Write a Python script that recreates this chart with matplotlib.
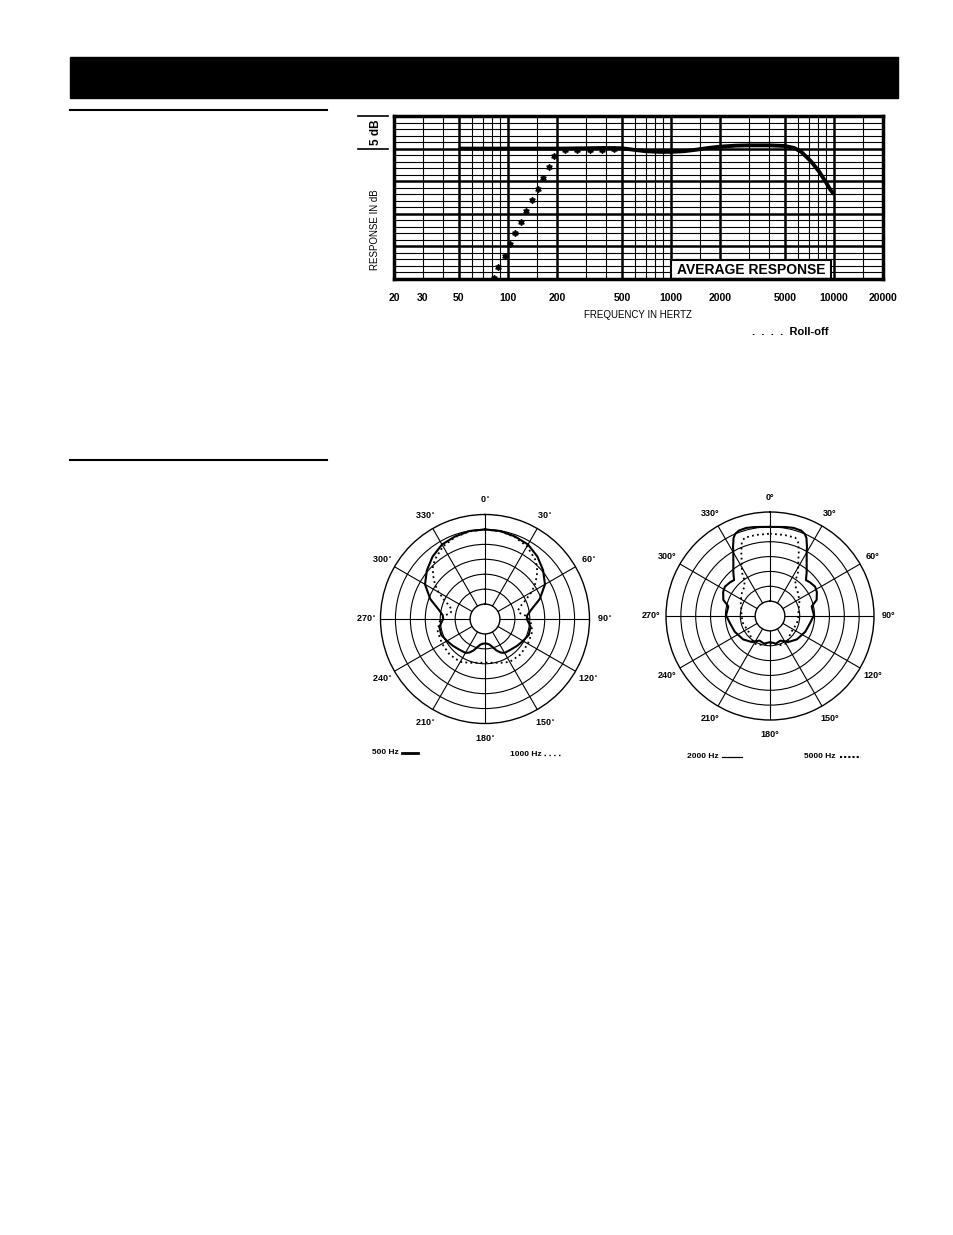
import numpy as np
import matplotlib as mpl
import matplotlib.pyplot as plt
from matplotlib.patches import Rectangle
from matplotlib.lines import Line2D

mpl.use('Agg')
plt.rcParams['font.family'] = ['Liberation Sans', 'DejaVu Sans']

# ---- frequency response data ----
resp_freq = [50, 100, 200, 300, 400, 500, 600, 700, 850, 1000, 1200, 1400, 1700,
             2000, 2500, 3000, 4000, 5000, 5700, 6300, 7200, 8100, 8900, 9500, 10000]
resp_db = [0, 0, 0, 0.05, 0.1, 0.05, -0.2, -0.4, -0.5, -0.5, -0.4, -0.2, 0.1,
           0.3, 0.45, 0.5, 0.5, 0.4, 0.1, -0.5, -1.9, -3.5, -5.1, -6.3, -7.0]

rolloff_freq = [81.6, 87.5, 95.3, 103.3, 110.9, 120.2, 129.5, 140.3, 152, 164, 177.5, 192.3,
                222.8, 265.5, 317, 378, 446]
rolloff_db = [-19.8, -18.2, -16.5, -14.7, -13.0, -11.3, -9.6, -7.9, -6.2, -4.5, -2.8, -1.2,
              -0.15, -0.15, -0.15, -0.15, 0]

tick_freqs = [20, 30, 50, 100, 200, 500, 1000, 2000, 5000, 10000, 20000]
tick_labels = ['20', '30', '50', '100', '200', '500', '1000', '2000', '5000', '10000', '20000']
thick_freqs = [50, 100, 200, 500, 1000, 2000, 5000, 10000]
thin_freqs = [30, 40, 60, 70, 80, 90, 150, 300, 400, 600, 700, 800, 900, 1500,
              3000, 4000, 6000, 7000, 8000, 9000, 15000]

# ---- polar data (0..180 deg, pattern is symmetric) ----
ang_500 = [0, 10, 20, 30, 40, 50, 60, 70, 78, 85, 90, 95, 100, 110, 120, 130, 140, 150,
           155, 160, 165, 170, 175, 180]
db_500 = [0, -0.1, -0.6, -1.2, -2.7, -4.6, -6.8, -10.5, -14.0, -15.8, -16.0, -15.3, -14.5,
          -14.4, -15.3, -16.0, -16.6, -16.9, -17.6, -18.8, -20.3, -21.3, -21.7, -21.8]

ang_1000 = [0, 10, 20, 30, 40, 45, 50, 55, 60, 65, 70, 75, 80, 85, 90, 95, 105, 120, 135,
            150, 160, 170, 180]
db_1000 = [0, -0.2, -0.8, -1.9, -3.9, -5.3, -7.3, -9.5, -12.0, -15.0, -17.3, -18.5, -18.3,
           -16.5, -15.2, -14.6, -13.6, -13.4, -13.2, -13.4, -14.4, -15.1, -15.4]

ang_2000 = [0, 10, 15, 20, 23, 25, 28, 30, 35, 40, 45, 50, 57, 63, 71, 77, 83, 89, 100,
            114, 131, 145, 157, 168, 180]
db_2000 = [0, 0.4, 0.7, 0.6, 0, -1.0, -3.5, -5.3, -8.5, -10.8, -12.9, -12.4, -11.9, -12.3,
           -13.4, -15.6, -15.5, -15.2, -16.3, -17.0, -18.0, -19.3, -21.0, -20.5, -21.2]

ang_5000 = [0, 10, 18, 21, 24, 27, 30, 33, 36, 42, 51, 64, 81, 90, 105, 130, 148, 160, 170, 180]
db_5000 = [-2.3, -2.3, -2.3, -3.5, -6.2, -9.0, -11.0, -12.8, -15.5, -17.0, -17.8, -19.0,
           -20.3, -20.4, -20.6, -21.0, -19.2, -19.6, -20.4, -20.7]

left_angles = [0, 30, 60, 90, 120, 150, 180, 210, 240, 270, 300, 330]

W, H = 954, 1235


def fx(x):
    return x / W


def fy(y):
    return 1 - y / H


fig = plt.figure(figsize=(W / 100, H / 100), dpi=100)

# page decorations
fig.patches.append(Rectangle((fx(70), fy(98)), 828 / W, 41 / H, transform=fig.transFigure,
                             color='black'))
for yy in (110, 460):
    fig.lines.append(Line2D([fx(70), fx(327)], [fy(yy), fy(yy)], transform=fig.transFigure,
                            color='black', lw=1.5))

# ---- frequency response chart ----
ax = fig.add_axes([fx(394), fy(279), 489 / W, 163 / H])
ax.set_xscale('log')
ax.set_xlim(20, 20000)
ax.set_ylim(-20, 5)
for f in thick_freqs:
    ax.axvline(f, color='black', lw=1.8, zorder=1)
for f in thin_freqs:
    ax.axvline(f, color='black', lw=0.8, zorder=1)
for d in range(-19, 5):
    ax.axhline(d, color='black', lw=1.8 if d % 5 == 0 else 0.8, zorder=1)

ax.add_patch(Rectangle((1000, -20), 9570 - 1000, 2.9, facecolor='white', edgecolor='black',
                       lw=1.5, zorder=2))
ax.text(np.sqrt(1000 * 9570), -18.55, 'AVERAGE RESPONSE', ha='center', va='center',
        fontsize=10, fontweight='bold', zorder=3)

ax.plot(resp_freq, resp_db, color='black', lw=2.8, solid_capstyle='butt', zorder=4)
ax.plot(rolloff_freq, rolloff_db, ls='none', marker=(6, 1, 0), ms=4.5, color='black',
        zorder=4)

ax.xaxis.set_minor_locator(mpl.ticker.NullLocator())
ax.set_xticks(tick_freqs)
ax.set_xticklabels(tick_labels, fontsize=7.5, fontweight='bold')
ax.set_yticks([])
ax.tick_params(axis='x', length=0, pad=10)
for s in ax.spines.values():
    s.set_linewidth(2.5)
    s.set_zorder(5)

ax.plot([-0.074, -0.012], [5, 5], transform=ax.get_yaxis_transform(), color='black',
        lw=1.2, clip_on=False)
ax.plot([-0.074, -0.012], [0, 0], transform=ax.get_yaxis_transform(), color='black',
        lw=1.2, clip_on=False)

fig.text(fx(376), fy(132), '5 dB', rotation=90, ha='center', va='center', fontsize=8.5,
         fontweight='bold')
fig.text(fx(375), fy(230), 'RESPONSE IN dB', rotation=90, ha='center', va='center',
         fontsize=7)
fig.text(fx(638), fy(315), 'FREQUENCY IN HERTZ', ha='center', va='center', fontsize=7)
fig.text(fx(752), fy(332), '.  .  .  .  Roll-off', ha='left', va='center', fontsize=8,
         fontweight='bold')


# ---- polar charts ----
def mirror(ang, vals):
    a = np.array(ang, dtype=float)
    v = np.array(vals, dtype=float)
    full_a = np.concatenate([a, 360 - a[::-1][1:]])
    full_v = np.concatenate([v, v[::-1][1:]])
    return np.deg2rad(full_a), full_v


def polar_chart(cx, cy, rad, curves, bold_degree):
    pax = fig.add_axes([fx(cx - rad), fy(cy + rad), 2 * rad / W, 2 * rad / H],
                       projection='polar')
    pax.set_theta_zero_location('N')
    pax.set_theta_direction(-1)
    pax.set_rlim(-25, 5)
    pax.set_rorigin(-30)
    pax.set_rticks([-20, -15, -10, -5, 0])
    pax.set_yticklabels([])
    pax.set_thetagrids(left_angles, labels=[])
    pax.grid(True, color='black', lw=0.8)
    for s in pax.spines.values():
        s.set_linewidth(1.0)
    for a in left_angles:
        if bold_degree:
            lbl = f'{a}\u00b0'
        else:
            lbl = f'{a}$^{{\\circ}}$'
        pax.text(np.deg2rad(a), 10, lbl, ha='center', va='center', fontsize=6.5,
                 fontweight='bold', clip_on=False)
    for ang, vals, style, lw in curves:
        t, r = mirror(ang, vals)
        pax.plot(t, r, color='black', lw=lw, ls=style)
    return pax


polar_chart(485, 619, 104.5,
            [(ang_500, db_500, '-', 1.5), (ang_1000, db_1000, (0, (1, 1.8)), 1.3)], False)
polar_chart(770, 616, 104,
            [(ang_2000, db_2000, '-', 1.5), (ang_5000, db_5000, (0, (1, 1.8)), 1.3)], True)

# legends
fig.text(fx(372), fy(753), '500 Hz', ha='left', va='center', fontsize=6, fontweight='bold')
fig.lines.append(Line2D([fx(402), fx(418)], [fy(753), fy(753)], transform=fig.transFigure,
                        color='black', lw=2))
fig.text(fx(510), fy(755), '1000 Hz', ha='left', va='center', fontsize=6, fontweight='bold')
fig.lines.append(Line2D([fx(544), fx(563)], [fy(755), fy(755)], transform=fig.transFigure,
                        color='black', lw=1.0, ls=(0, (1, 2.5))))
fig.text(fx(687), fy(757), '2000 Hz', ha='left', va='center', fontsize=6, fontweight='bold')
fig.lines.append(Line2D([fx(722), fx(742)], [fy(757), fy(757)], transform=fig.transFigure,
                        color='black', lw=0.9))
fig.text(fx(804), fy(757), '5000 Hz', ha='left', va='center', fontsize=6, fontweight='bold')
fig.lines.append(Line2D([fx(840), fx(861)], [fy(757), fy(757)], transform=fig.transFigure,
                        color='black', lw=1.5, ls=(0, (1, 1))))

fig.savefig('out.png', dpi=100)
